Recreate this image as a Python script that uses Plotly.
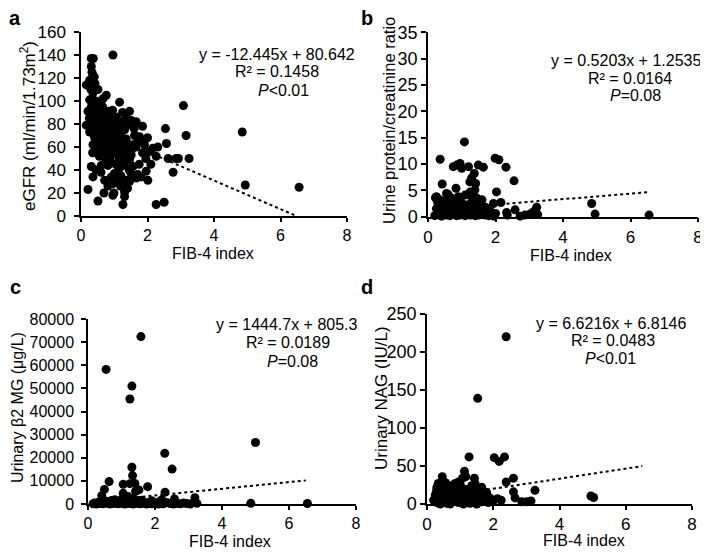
import plotly.graph_objects as go

# ---------------- data ----------------
fib_a = [0.31,0.37,0.96,0.31,0.33,0.36,0.16,0.26,0.40,0.36,0.51,0.76,0.66,1.16,0.26,0.31,0.46,0.21,0.36,0.61,
         0.81,0.91,1.11,1.46,1.51,1.66,1.41,1.21,0.16,0.31,0.46,0.56,0.71,0.86,1.01,1.16,1.31,0.51,0.36,0.26,
         0.61,0.76,0.91,1.06,1.21,1.36,1.61,1.76,1.81,1.71,1.91,2.06,2.16,2.31,2.26,2.54,2.57,2.62,2.77,2.86,
         0.36,0.51,0.66,0.81,0.96,1.11,1.26,1.41,0.46,0.61,0.76,0.91,1.06,1.21,1.31,1.51,1.51,1.36,0.56,0.71,
         0.86,1.01,1.16,0.41,0.31,0.36,0.61,0.81,0.21,0.51,0.71,0.81,0.69,0.99,1.01,1.21,1.26,1.31,1.26,1.31,
         1.46,1.51,1.56,1.71,1.81,1.96,2.01,1.46,1.11,0.91,2.26,2.50,0.96,1.19,1.36,1.66,2.93,3.25,3.16,3.08,
         4.85,4.94,6.56,0.45,0.55,0.65,0.75,0.85,0.95,1.05,1.25,1.35,0.25,0.40,0.55,0.70,0.80,0.95,1.10,1.25,
         1.40,1.55,1.65,0.45,0.60,0.70,0.85,1.00,1.15,0.90,1.05,0.75,0.55,1.30,1.45,1.20,1.10,0.95,1.40,0.60,
         0.45,1.75,1.85,1.95,2.10,0.35,0.50,0.30,0.42,1.60,1.85,2.00]
egfr = [137,137,140,130,125,122,114,118,121,107,110,105,102,99,101,95,96,91,88,92,
        91,85,83,91,83,82,79,81,79,81,84,86,84,78,79,76,75,75,72,73,
        72,69,70,72,69,67,70,69,66,65,62,56,59,60,52,76,63,50,38,50,
        62,63,60,62,59,60,57,62,57,56,55,53,56,53,50,53,57,55,66,66,
        65,66,65,68,43,34,44,44,23,13,31,26,20,20,37,43,27,21,10,17,
        30,37,43,36,34,39,31,49,39,34,10,12,18,26,31,33,50,50,70,96,
        73,27,25,100,98,95,90,88,92,86,90,85,85,78,80,77,75,73,68,63,
        58,62,60,64,61,58,57,55,50,47,45,48,52,45,40,35,30,28,24,38,
        40,45,55,50,45,55,90,110,115,76,78,68]

fib_b = [1.08,0.36,0.85,0.75,0.95,1.00,1.20,1.49,1.64,1.99,2.10,2.31,2.55,1.29,1.37,1.24,1.41,0.42,0.83,1.39,
         2.03,0.25,0.35,0.55,0.70,0.90,1.10,1.30,1.45,1.60,2.16,1.94,2.33,2.58,2.73,2.87,3.02,3.12,3.22,3.25,
         2.35,4.85,4.95,6.55,0.20,0.25,0.30,0.30,0.35,0.40,0.40,0.45,0.50,0.50,0.55,0.60,0.60,0.65,0.70,0.70,
         0.75,0.80,0.80,0.85,0.90,0.90,0.95,1.00,1.00,1.05,1.10,1.10,1.15,1.20,1.20,1.25,1.30,1.30,1.35,1.40,
         1.40,1.45,1.50,1.50,1.55,1.60,1.65,1.70,1.70,1.75,1.80,1.85,1.90,1.95,2.00,0.22,0.28,0.60,0.65,1.25,
         1.35,1.50]
upcr = [14.2,10.9,9.8,9.5,10.1,9.2,9.5,9.8,9.4,11.1,10.8,9.4,6.8,7.3,8.2,6.6,6.3,6.2,5.4,5.1,
        4.7,3.8,3.2,4.4,3.5,3.8,4.1,3.8,3.5,3.2,2.7,2.5,0.8,1.3,0.1,0.3,0.5,0.9,1.8,0.4,
        0.3,2.5,0.5,0.3,0.2,1.5,0.5,2.5,1.0,0.1,2.0,0.6,1.4,3.0,0.3,2.2,0.9,0.2,1.6,2.8,
        0.5,1.2,2.5,0.2,1.8,0.7,0.3,1.1,2.6,0.4,1.5,0.2,2.2,0.8,1.9,0.3,1.3,2.8,0.6,1.7,
        0.2,2.3,0.9,0.3,1.5,0.5,1.2,0.3,1.8,0.7,0.2,1.0,0.4,0.1,0.6,3.6,2.9,4.2,3.3,4.7,
        4.3,2.6]

fib_c = [1.58,0.54,1.31,1.25,2.29,2.51,1.31,1.33,0.63,1.05,1.25,1.40,1.52,1.78,0.49,0.41,2.30,1.05,1.20,1.35,
         2.58,3.19,4.86,5.00,6.55,1.42,1.00,0.80,0.70,1.60,1.90,2.20,0.15,0.20,0.25,0.30,0.35,0.40,0.45,0.50,
         0.55,0.60,0.65,0.70,0.75,0.80,0.85,0.90,0.95,1.00,1.05,1.10,1.15,1.20,1.25,1.30,1.35,1.40,1.45,1.50,
         1.55,1.60,1.65,1.70,1.75,1.80,1.85,1.90,1.95,2.00,2.05,2.10,2.15,2.20,2.25,2.35,2.45,2.55,2.65,2.75,
         2.85,2.95,3.05,3.25]
b2mg = [72400,58200,51000,45400,21900,15100,15900,12300,9700,8500,8800,8900,6100,7500,6300,3600,5100,4600,3200,2500,
        2200,2700,300,26600,200,5500,2000,1800,1500,1600,1400,1800,100,400,0,700,200,900,100,500,
        1200,300,0,600,200,1000,400,100,700,300,1300,0,500,900,200,600,0,1100,300,700,
        100,400,900,200,0,600,300,100,800,200,500,0,1200,300,100,600,200,0,300,100,
        400,200,0,300]

fib_d = [2.39,1.53,1.27,2.03,2.18,2.34,2.61,2.39,1.13,1.17,1.07,1.43,1.45,0.46,0.34,0.56,0.29,0.85,0.90,0.95,
         2.61,2.66,2.13,2.24,3.26,2.86,3.01,3.14,4.95,5.03,2.00,1.65,1.80,1.70,0.20,0.25,0.30,0.35,0.40,0.45,
         0.50,0.55,0.60,0.65,0.70,0.75,0.80,0.85,0.90,0.95,1.00,1.05,1.10,1.15,1.20,1.25,1.30,1.35,1.40,1.45,
         1.50,1.55,1.60,1.65,1.70,1.75,1.80,1.85,1.90,0.30,0.60,0.75,1.00,1.20,1.40,0.40,0.70,1.10,1.50,0.50,
         0.80,1.30]
nag = [220,139,62,61,56,62,34,29,43,36,34,34,27,36,27,28,18,27,23,29,
       16,8,7,5,18,3,3,4,10.5,8.5,4,22,15,12,5,12,2,8,15,3,
       20,10,1,6,18,13,4,9,16,2,11,21,7,14,3,18,9,24,12,5,
       16,8,19,3,10,6,13,2,8,22,25,24,26,19,20,0,0,0,0,8,
       12,1]

# trend lines (Excel linear fits shown on the chart): slope, intercept, x-range
fits = {
    "a": (-12.445, 80.642),
    "b": (0.5203, 1.2535),
    "c": (1444.7, 805.3),
    "d": (6.6216, 6.8146),
}
fit_x = [0.2, 6.5]

eq_text = {
    "a": ["y = -12.445x + 80.642", "R² = 0.1458", "<i>P</i><0.01"],
    "b": ["y = 0.5203x + 1.2535", "R² = 0.0164", "<i>P</i>=0.08"],
    "c": ["y = 1444.7x + 805.3", "R² = 0.0189", "<i>P</i>=0.08"],
    "d": ["y = 6.6216x + 6.8146", "R² = 0.0483", "<i>P</i><0.01"],
}
y_titles = {
    "a": "eGFR (ml/min/1.73m<sup>2</sup>)",
    "b": "Urine protein/creatinine ratio",
    "c": "Urinary β2 MG (μg/L)",
    "d": "Urinary NAG (IU/L)",
}
x_title = "FIB-4 index"
y_ranges = {"a": (0, 160, 20), "b": (0, 35, 5), "c": (0, 80000, 10000), "d": (0, 250, 50)}

# ---------------- layout geometry (page pixels) ----------------
# the page body has an 8px margin, so the figure is 700x544 placed at (8, 8)
OFF = 8
W, H = 708 - OFF, 552 - OFF
FONT = "Liberation Sans, Arial, sans-serif"
def px(x): return (x - OFF) / W
def py(y): return 1 - (y - OFF) / H

boxes = {  # left, right, top, bottom in page pixels
    "a": (81, 347, 32, 216),
    "b": (428, 698, 32.3, 216.7),
    "c": (88, 356, 319, 504),
    "d": (427, 692, 314, 504),
}
ytick_size = {"a": 17, "b": 18, "c": 16, "d": 18}
xtick_size = {"a": 16, "b": 17, "c": 16, "d": 17}
y_standoff = {"a": 5, "b": 0, "c": 4, "d": 0}
panel_data = {"a": (fib_a, egfr), "b": (fib_b, upcr), "c": (fib_c, b2mg), "d": (fib_d, nag)}

fig = go.Figure()
layout = dict(width=W, height=H, margin=dict(l=0, r=0, t=0, b=0, autoexpand=False),
              paper_bgcolor="white", plot_bgcolor="white", showlegend=False,
              font=dict(family=FONT, color="black"))
annotations = []

for i, key in enumerate(["a", "b", "c", "d"]):
    n = "" if i == 0 else str(i + 1)
    xa, ya = "x" + n, "y" + n
    l, r, t, b = boxes[key]
    xs, ys = panel_data[key]
    slope, icpt = fits[key]
    fig.add_trace(go.Scatter(x=xs, y=ys, mode="markers", xaxis=xa, yaxis=ya,
                             marker=dict(color="black", size=9, line=dict(width=0)),
                             cliponaxis=False))
    fig.add_trace(go.Scatter(x=fit_x, y=[slope * v + icpt for v in fit_x], mode="lines",
                             xaxis=xa, yaxis=ya,
                             line=dict(color="black", width=2, dash="dot")))
    y0, y1, dy = y_ranges[key]
    common = dict(showline=True, linecolor="black", linewidth=1.5, ticks="outside",
                  tickwidth=1.5, tickcolor="black", showgrid=False,
                  zeroline=False, automargin=False, tickformat="d")
    layout["xaxis" + n] = dict(domain=[px(l), px(r)], range=[0, 8], tick0=0, dtick=2,
                               anchor=ya, ticklen=4,
                               tickfont=dict(family=FONT, size=xtick_size[key], color="black"),
                               **common)
    layout["yaxis" + n] = dict(domain=[py(b), py(t)], range=[y0, y1], tick0=0, dtick=dy,
                               anchor=xa, ticklen=5, ticklabelstandoff=y_standoff[key],
                               tickfont=dict(family=FONT, size=ytick_size[key], color="black"),
                               **common)

# panel letters
for key, (x, y) in {"a": (15, 18), "b": (367, 18), "c": (15, 287), "d": (367, 287)}.items():
    annotations.append(dict(text="<b>%s</b>" % key, x=px(x), y=py(y), xref="paper", yref="paper",
                            showarrow=False, font=dict(size=20, family=FONT), xanchor="center",
                            yanchor="middle"))

# x titles
for key, (x, y) in {"a": (213, 253), "b": (571, 255), "c": (230, 541), "d": (584, 540)}.items():
    annotations.append(dict(text=x_title, x=px(x), y=py(y), xref="paper", yref="paper",
                            showarrow=False, font=dict(size=16, family=FONT),
                            xanchor="center", yanchor="middle"))

# y titles
ytitle_pos = {"a": (28, 126, 17), "b": (389, 121, 16.5), "c": (17, 408, 16), "d": (381, 398, 17)}
for key, (x, y, fs) in ytitle_pos.items():
    annotations.append(dict(text=y_titles[key], x=px(x), y=py(y), xref="paper", yref="paper",
                            showarrow=False, textangle=-90, font=dict(size=fs, family=FONT),
                            xanchor="center", yanchor="middle"))

# equation texts (three lines each)
eq_pos = {
    "a": [(277, 54), (277, 71), (283, 90)],
    "b": [(626, 60), (630, 78), (635, 96)],
    "c": [(287, 324), (288, 342), (292, 361)],
    "d": [(611, 323), (613, 340), (610, 358)],
}
for key, lines in eq_text.items():
    for txt, (x, y) in zip(lines, eq_pos[key]):
        annotations.append(dict(text=txt, x=px(x), y=py(y), xref="paper", yref="paper",
                                showarrow=False, font=dict(size=16, family=FONT),
                                xanchor="center", yanchor="middle"))

layout["annotations"] = annotations
fig.update_layout(**layout)
fig.write_html("out.html")
